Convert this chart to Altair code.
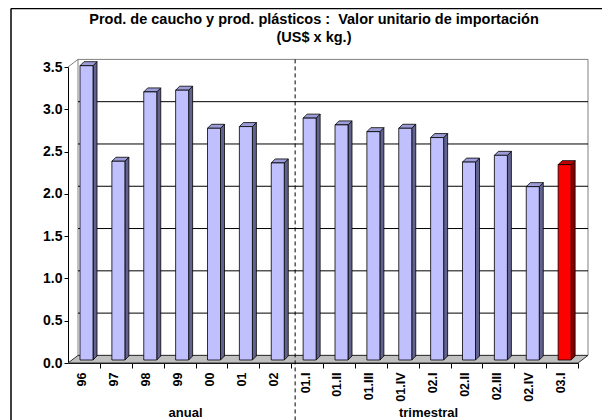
import json
import altair as alt
import pandas as pd

# ---------------- data ----------------
categories = ["96", "97", "98", "99", "00", "01", "02",
              "01.I", "01.II", "01.III", "01.IV", "02.I", "02.II", "02.III", "02.IV", "03.I"]
values = [3.48, 2.35, 3.17, 3.19, 2.74, 2.76, 2.33,
          2.86, 2.78, 2.70, 2.74, 2.63, 2.34, 2.42, 2.05, 2.31]
groups = ["anual"] * 7 + ["trimestral"] * 9
highlight = "03.I"
y_ticks = [0.0, 0.5, 1.0, 1.5, 2.0, 2.5, 3.0, 3.5]
title_lines = ["Prod. de caucho y prod. plásticos :\u00a0 Valor unitario de importación",
               "(US$ x kg.)"]

# ---------------- geometry (pixels) ----------------
W, H = 510, 296
N = len(categories)
YMAX = y_ticks[-1]
PX = N / W          # x data units per pixel
PY = YMAX / H       # y data units per pixel
WALL_DX, WALL_DY = 10, 7.6
BAR_L, BAR_R = 12, 25
BAR_DX, BAR_DY = 4, 4
BAR_BASE = 3

FONT = "Liberation Sans"

XS = alt.Scale(domain=[0, N], nice=False, zero=False)
YS = alt.Scale(domain=[0, YMAX], nice=False, zero=False)
XAX = alt.Axis(values=list(range(1, N + 1)),
               labelExpr=json.dumps(categories) + "[datum.value - 1]",
               labelAngle=270, labelOffset=-18, labelPadding=4,
               labelFont=FONT, labelFontSize=12.5, labelFontWeight="bold", labelColor="black",
               tickSize=5, tickColor="black", domainColor="black", grid=False, title=None)
YAX = alt.Axis(values=y_ticks, format=".1f",
               labelFont=FONT, labelFontSize=14, labelFontWeight="bold", labelColor="black",
               labelPadding=2, tickSize=4, tickColor="black", domainColor="black",
               grid=False, title=None)


def X(f):
    return alt.X(f, type="quantitative", scale=XS, axis=XAX)


def Y(f):
    return alt.Y(f, type="quantitative", scale=YS, axis=YAX)


def is_hi():
    return alt.datum.cat == highlight


# ---------------- tables built from the arrays ----------------
rows_front, rows_side, rows_top = [], [], []
for i, (c, v) in enumerate(zip(categories, values)):
    base = BAR_BASE * PY
    rows_front.append(dict(cat=c, value=v, x0=i + BAR_L * PX, x1=i + BAR_R * PX,
                           y0=base, y1=v + base))
    for k in (0, 1):
        rows_side.append(dict(cat=c, value=v, xx=i + (BAR_R + k * BAR_DX) * PX,
                              ylo=base + k * BAR_DY * PY, yhi=v + base + k * BAR_DY * PY))
        rows_top.append(dict(cat=c, value=v, yy=v + base + k * BAR_DY * PY,
                             xa=i + (BAR_L + k * BAR_DX) * PX, xb=i + (BAR_R + k * BAR_DX) * PX))
front_df = pd.DataFrame(rows_front)
side_df = pd.DataFrame(rows_side)
top_df = pd.DataFrame(rows_top)

floor_df = pd.DataFrame(dict(yy=[0, WALL_DY * PY],
                             xa=[0, WALL_DX * PX], xb=[N, N + WALL_DX * PX]))
grid_df = pd.DataFrame(dict(t=[t for t in y_ticks if 0 < t < YMAX]))
n_anual = groups.count("anual")
split_df = pd.DataFrame(dict(b=[n_anual]))
grp_df = pd.DataFrame(dict(g=["anual", "trimestral"], pos=[n_anual / 2, (n_anual + N) / 2]))
one = alt.Data(values=[{}])

# ---------------- layers ----------------
back_wall = alt.Chart(one).mark_rect(fill="white", stroke="#808080", strokeWidth=1).encode(
    x=alt.value(WALL_DX), x2=alt.value(W + WALL_DX),
    y=alt.value(-WALL_DY), y2=alt.value(H - WALL_DY))

side_diag = alt.Chart(one).mark_rule(color="#808080", strokeWidth=1).encode(
    x=alt.value(0), x2=alt.value(WALL_DX), y=alt.value(0), y2=alt.value(-WALL_DY))

grid = alt.Chart(grid_df).mark_rule(color="black", strokeWidth=1, yOffset=-WALL_DY).encode(
    y=Y("t"), x=alt.value(WALL_DX), x2=alt.value(W + WALL_DX))

floor = alt.Chart(floor_df).mark_area(orient="horizontal", fill="#C0C0C0",
                                      stroke="#303030", strokeWidth=1).encode(
    y=Y("yy"), x=X("xa"), x2="xb")

side = alt.Chart(side_df).mark_area(orient="vertical", stroke="black", strokeWidth=0.8).encode(
    x=X("xx"), y=Y("yhi"), y2="ylo", detail="cat:N",
    fill=alt.condition(is_hi(), alt.value("#800000"), alt.value("#62628F")))

top = alt.Chart(top_df).mark_area(orient="horizontal", stroke="black", strokeWidth=0.8).encode(
    y=Y("yy"), x=X("xa"), x2="xb", detail="cat:N",
    fill=alt.condition(is_hi(), alt.value("#C00000"), alt.value("#9C9CD8")))

front = alt.Chart(front_df).mark_rect(stroke="black", strokeWidth=0.8).encode(
    x=X("x0"), x2="x1", y=Y("y1"), y2="y0",
    fill=alt.condition(is_hi(), alt.value("#FF0000"), alt.value("#C0C0FF")))

split = alt.Chart(split_df).mark_rule(color="black", strokeWidth=1, strokeDash=[4, 3],
                                      xOffset=4).encode(
    x=X("b"), y=alt.value(-WALL_DY), y2=alt.value(H + 60))

GRP_Y = 346
grp_a = alt.Chart(grp_df).transform_filter(alt.datum.g == "anual").mark_text(
    font=FONT, fontSize=13, fontWeight="bold", color="black", baseline="middle", dx=6).encode(
    x=X("pos"), y=alt.value(GRP_Y), text="g:N")
grp_t = alt.Chart(grp_df).transform_filter(alt.datum.g == "trimestral").mark_text(
    font=FONT, fontSize=13, fontWeight="bold", color="black", baseline="middle", dx=-6).encode(
    x=X("pos"), y=alt.value(GRP_Y), text="g:N")

title_df = pd.DataFrame(dict(t=title_lines))
title1 = alt.Chart(title_df).transform_filter(alt.datum.t == title_lines[0]).mark_text(
    font=FONT, fontSize=14.5, fontWeight="bold", color="black",
    baseline="middle", align="center").encode(x=alt.value(246), y=alt.value(-47), text="t:N")
title2 = alt.Chart(title_df).transform_filter(alt.datum.t == title_lines[1]).mark_text(
    font=FONT, fontSize=14.5, fontWeight="bold", color="black",
    baseline="middle", align="center").encode(x=alt.value(246), y=alt.value(-29), text="t:N")

frame_left = alt.Chart(one).mark_rule(color="black", strokeWidth=1.5).encode(
    x=alt.value(-57), y=alt.value(-58.5), y2=alt.value(H + 70))
frame_top = alt.Chart(one).mark_rule(color="black", strokeWidth=1.5).encode(
    x=alt.value(-57), x2=alt.value(W + 30), y=alt.value(-58.5))

chart = alt.layer(
    back_wall, side_diag, grid, floor, side, top, front, split, grp_a, grp_t,
    title1, title2, frame_left, frame_top
).properties(
    width=W, height=H,
    autosize=alt.AutoSizeParams(type="none"),
    padding={"left": 60, "top": 59, "right": 24, "bottom": 57},
).configure_view(stroke=None)

chart.save("out.html", embed_options={"renderer": "svg", "actions": False})
